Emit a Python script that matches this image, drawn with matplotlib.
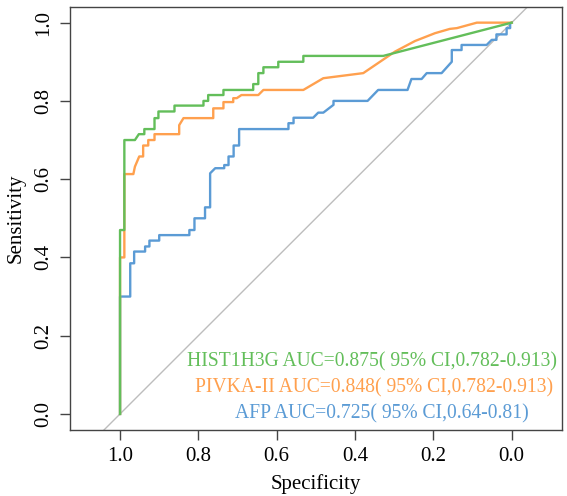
import matplotlib
matplotlib.use("Agg")
import matplotlib.pyplot as plt

plt.rcParams['font.family'] = ['Liberation Serif', 'DejaVu Serif']

# ---- data ----
hist_spec = [1.0, 1.0, 0.989, 0.989, 0.962, 0.952, 0.938, 0.938, 0.912, 0.912, 0.902, 0.902,
             0.861, 0.861, 0.787, 0.787, 0.775, 0.775, 0.736, 0.736, 0.660, 0.660, 0.647, 0.647,
             0.634, 0.634, 0.596, 0.596, 0.532, 0.532, 0.328, 0.0]
hist_sens = [0.0, 0.470, 0.470, 0.700, 0.700, 0.715, 0.715, 0.728, 0.728, 0.756, 0.756, 0.773,
             0.773, 0.788, 0.788, 0.800, 0.800, 0.815, 0.815, 0.828, 0.828, 0.843, 0.843, 0.871,
             0.871, 0.886, 0.886, 0.900, 0.900, 0.915, 0.915, 1.0]

pivka_spec = [1.0, 1.0, 0.989, 0.989, 0.966, 0.962, 0.951, 0.941, 0.941, 0.928, 0.928, 0.912,
              0.912, 0.849, 0.849, 0.838, 0.762, 0.762, 0.736, 0.736, 0.711, 0.711, 0.702, 0.690,
              0.647, 0.634, 0.532, 0.481, 0.379, 0.298, 0.247, 0.196, 0.158, 0.140, 0.089, 0.0]
pivka_sens = [0.0, 0.400, 0.400, 0.613, 0.613, 0.632, 0.658, 0.658, 0.686, 0.686, 0.700, 0.700,
              0.715, 0.715, 0.738, 0.756, 0.756, 0.781, 0.781, 0.797, 0.797, 0.807, 0.807, 0.815,
              0.815, 0.828, 0.828, 0.858, 0.871, 0.926, 0.953, 0.973, 0.984, 0.986, 1.0, 1.0]

afp_spec = [1.0, 1.0, 0.974, 0.974, 0.964, 0.964, 0.936, 0.936, 0.925, 0.925, 0.900, 0.900,
            0.823, 0.823, 0.810, 0.810, 0.783, 0.783, 0.770, 0.770, 0.757, 0.734, 0.734, 0.723,
            0.723, 0.710, 0.710, 0.696, 0.696, 0.570, 0.570, 0.557, 0.557, 0.507, 0.494, 0.481,
            0.455, 0.455, 0.368, 0.341, 0.266, 0.256, 0.230, 0.217, 0.179, 0.153, 0.153, 0.128,
            0.128, 0.064, 0.051, 0.039, 0.039, 0.013, 0.013, 0.004, 0.004, 0.0]
afp_sens = [0.0, 0.300, 0.300, 0.385, 0.385, 0.415, 0.415, 0.428, 0.428, 0.443, 0.443, 0.457,
            0.457, 0.470, 0.470, 0.500, 0.500, 0.528, 0.528, 0.615, 0.628, 0.628, 0.636, 0.636,
            0.658, 0.658, 0.686, 0.686, 0.728, 0.728, 0.743, 0.743, 0.757, 0.757, 0.770, 0.770,
            0.790, 0.800, 0.800, 0.828, 0.828, 0.856, 0.856, 0.871, 0.871, 0.900, 0.930, 0.930,
            0.943, 0.943, 0.956, 0.956, 0.970, 0.970, 0.986, 0.986, 0.998, 1.0]

labels = ["HIST1H3G AUC=0.875( 95% CI,0.782-0.913)",
          "PIVKA-II AUC=0.848( 95% CI,0.782-0.913)",
          "AFP AUC=0.725( 95% CI,0.64-0.81)"]
label_x = [0.357, 0.352, 0.331]
label_y = [0.133, 0.0665, 0.0]

col_green = "#63BE5A"
col_orange = "#FFA04E"
col_blue = "#5B9BD5"
colors = [col_green, col_orange, col_blue]

fig = plt.figure(figsize=(5.67, 4.96), dpi=100)
ax = fig.add_axes([0.1235, 0.1331, 0.8672, 0.8528])

# diagonal reference line
ax.plot([1.2, -0.2], [-0.2, 1.2], color="#BDBDBD", lw=1.0, zorder=1)

ax.plot(afp_spec, afp_sens, color=col_blue, lw=1.7, zorder=2)
ax.plot(pivka_spec, pivka_sens, color=col_orange, lw=1.7, zorder=3)
ax.plot(hist_spec, hist_sens, color=col_green, lw=1.7, zorder=4)

for lab, x, y, c in zip(labels, label_x, label_y, colors):
    ax.text(x, y, lab, color=c, fontsize=14.15, ha="center", va="center")

ax.set_xlim(1.1277, -0.1277)
ax.set_ylim(-0.041, 1.040)

ticks = [0.0, 0.2, 0.4, 0.6, 0.8, 1.0]
ax.set_xticks(ticks)
ax.set_yticks(ticks)
ax.set_xticklabels([f"{t:.1f}" for t in ticks])
ax.set_yticklabels([f"{t:.1f}" for t in ticks], rotation=90, va="center")
ax.tick_params(axis="both", length=7, width=1.0, color="#444444", labelsize=15, pad=5)

for s in ax.spines.values():
    s.set_color("#444444")
    s.set_linewidth(1.0)

ax.set_xlabel("Specificity", fontsize=15, labelpad=6)
ax.set_ylabel("Sensitivity", fontsize=15, labelpad=6.5)

fig.savefig("out.png", dpi=100)
